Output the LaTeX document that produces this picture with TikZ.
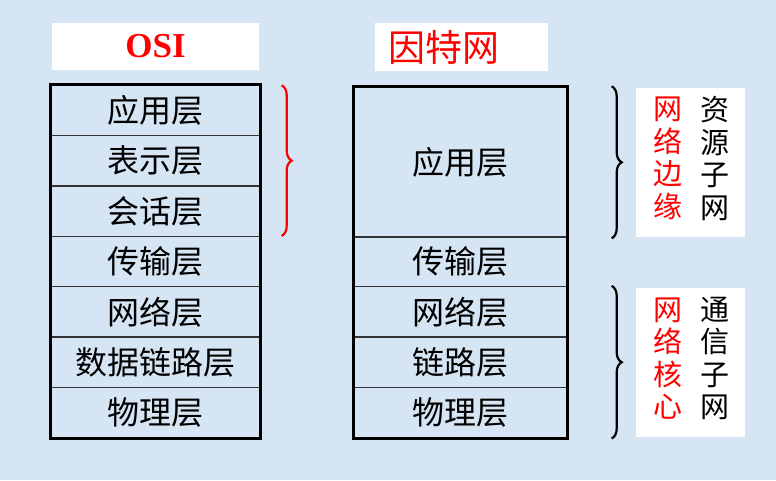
\documentclass[tikz,border=0pt]{standalone}
\usepackage{fontspec}
\setmainfont{Liberation Serif}
\newfontfamily\cjk{Noto Sans CJK SC}
\usetikzlibrary{decorations.pathreplacing}
\definecolor{bgblue}{HTML}{D6E5F4}
\definecolor{labelred}{HTML}{FF0000}

\begin{document}
\begin{tikzpicture}[x=1pt,y=-1pt,
    layer/.style={draw=black!80, line width=1.4pt, inner sep=0pt,
      minimum height=50.4pt, font=\cjk\fontsize{32}{32}\selectfont},
    titlebox/.style={fill=white, inner sep=0pt, text=labelred},
    sidebox/.style={fill=white, inner sep=0pt, minimum width=109pt, minimum height=149pt},
    sidetext/.style={align=center, inner sep=0pt, font=\cjk\fontsize{29}{32.5}\selectfont},
    curly/.style={decorate, decoration={brace, amplitude=10pt}, line width=2.2pt}]
  % background
  \fill[bgblue] (0,0) rectangle (776,480);
  \useasboundingbox (0,0) rectangle (776,480);

  % titles
  \node[titlebox, minimum width=207pt, minimum height=47pt,
    font=\bfseries\fontsize{35}{35}\selectfont] (osititle) at (155.5,46.5) {OSI};
  \node[titlebox, minimum width=173pt, minimum height=48pt, text width=147pt,
    align=left, inner xsep=13pt, font=\cjk\fontsize{37}{37}\selectfont] (nettitle) at (461.5,47) {因特网};

  % OSI layers
  \foreach \name [count=\i] in {应用层,表示层,会话层,传输层,网络层,数据链路层,物理层}
    \node[layer, minimum width=209pt] (osi\i) at (155.5,{59.8+\i*50.4}) {\name};
  \draw[line width=2.6pt] (osi1.north west) rectangle (osi7.south east);

  % Internet layers
  \node[layer, minimum width=213pt, minimum height=150.6pt] (net1) at (460.5,162.3) {应用层};
  \foreach \name [count=\i from 2] in {传输层,网络层,链路层,物理层}
    \node[layer, minimum width=213pt] (net\i) at (460.5,{160.6+\i*50.4}) {\name};
  \draw[line width=2.6pt] (net1.north west) rectangle (net5.south east);

  % braces
  \draw[curly, labelred] ([xshift=21pt,yshift=-1pt]osi1.north east) -- ([xshift=21pt,yshift=1pt]osi3.south east);
  \draw[curly] ([xshift=44pt]net1.north east) -- ([xshift=44pt]net1.south east);
  \draw[curly] ([xshift=44pt]net3.north east) -- ([xshift=44pt]net5.south east);

  % side labels
  \node[sidebox] (edgebox) at (690.5,162.5) {};
  \node[sidetext, text=labelred] (edgered) at (668,158.5) {网\\络\\边\\缘};
  \node[sidetext] (edgeblack) at (715,158.5) {资\\源\\子\\网};
  \node[sidebox] (corebox) at (690.5,362.5) {};
  \node[sidetext, text=labelred] (corered) at (668,358.5) {网\\络\\核\\心};
  \node[sidetext] (coreblack) at (715,358.5) {通\\信\\子\\网};
\end{tikzpicture}
\end{document}
